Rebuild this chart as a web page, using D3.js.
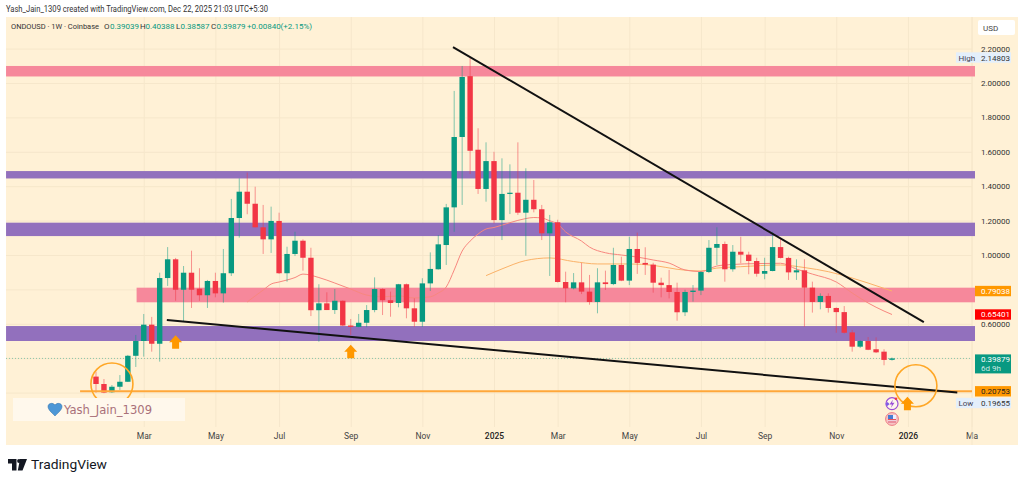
<!DOCTYPE html>
<html><head><meta charset="utf-8">
<script src="https://cdnjs.cloudflare.com/ajax/libs/d3/7.8.5/d3.min.js"></script>
<style>
html,body{margin:0;padding:0;background:#fff;overflow:hidden}
svg{display:block}
text{font-family:"Roboto","Liberation Sans",sans-serif}
</style></head><body>
<svg id="c" width="1024" height="483"></svg>
<script>
const opens=[.293,.250,.202,.234,.263,.414,.500,.595,.484,.866,.975,.798,.897,.804,.766,.849,.777,.894,1.215,1.368,1.298,1.161,1.091,1.198,.894,1.006,1.083,.984,.679,.719,.680,.734,.590,.582,.606,.680,.802,.737,.721,.830,.690,.612,.835,.917,1.058,1.277,1.686,2.040,1.612,1.384,1.546,1.203,1.355,1.362,1.246,1.321,1.266,1.126,1.190,.843,.806,.841,.787,.727,.841,.831,.942,.851,1.035,.954,.944,.839,.825,.785,.667,.785,.793,.901,1.042,1.064,.917,1.019,1.002,.965,.891,.907,1.046,.983,.899,.911,.810,.727,.762,.692,.668,.550,.467,.500,.452,.438,.39039];
const closes=[.250,.200,.234,.263,.414,.500,.595,.484,.866,.975,.798,.897,.798,.766,.849,.777,.894,1.215,1.368,1.298,1.161,1.091,1.198,.894,1.006,1.083,.984,.679,.719,.680,.734,.590,.582,.606,.680,.802,.737,.721,.830,.690,.612,.835,.919,1.062,1.277,1.686,2.035,1.606,1.384,1.546,1.203,1.355,1.362,1.246,1.321,1.266,1.126,1.190,.843,.806,.841,.787,.727,.841,.831,.942,.851,1.035,.954,.944,.839,.825,.785,.667,.785,.793,.901,1.042,1.064,.917,1.019,1.002,.965,.891,.907,1.046,.983,.899,.911,.810,.727,.762,.692,.668,.548,.467,.500,.449,.434,.390,.39879];
const highs=[.322,.279,.244,.302,.419,.535,.657,.640,.897,1.046,.983,.936,1.025,.923,.855,.897,1.035,1.326,1.446,1.479,1.397,1.291,1.281,1.246,1.048,1.135,1.091,1.042,.830,.783,.802,.736,.628,.657,.709,.870,.806,.787,.832,.834,.748,.865,1.015,1.116,1.297,1.954,2.099,2.14803,1.737,1.655,1.600,1.562,1.527,1.655,1.504,1.436,1.291,1.233,1.205,.903,.895,.954,.884,.923,.909,1.042,.990,1.106,1.130,1.045,.955,.868,.913,.839,.798,.825,.905,1.087,1.161,1.078,1.058,1.106,1.019,.984,.984,1.135,1.097,.990,.975,.975,.845,.777,.777,.695,.703,.564,.505,.523,.521,.452,.40388];
const lows=[.199,.19655,.198,.215,.262,.349,.409,.438,.380,.820,.734,.612,.692,.734,.692,.754,.723,.878,1.101,1.237,1.161,1.006,1.012,.890,.845,.994,.909,.645,.496,.680,.657,.587,.535,.580,.580,.667,.651,.641,.696,.632,.582,.582,.791,.915,.942,1.135,1.291,1.471,1.355,1.310,1.184,1.087,1.238,1.233,.996,1.248,1.087,.878,.840,.725,.800,.773,.711,.661,.797,.825,.848,.825,.890,.884,.781,.754,.748,.618,.645,.729,.767,.895,.942,.845,.903,.952,.888,.874,.859,.905,.980,.855,.855,.583,.665,.684,.665,.548,.544,.438,.459,.447,.430,.359,.38587];

const maFastIdx=[19,20,21,22,23,25,26,28,30,32,34,36,38,40,42,43,44,45,46,47,48,49,50,52,54,55,56,57,58,59,61,62,64,66,68,70,72,74,76,78,80,83,86,88,90,93,95,97,99,100];
const maFastVal=[.727,.762,.796,.831,.843,.869,.889,.869,.837,.802,.767,.757,.762,.750,.757,.779,.814,.913,1.023,1.081,1.122,1.151,1.160,1.188,1.212,1.218,1.215,1.199,1.180,1.134,1.081,1.046,1.013,1.000,.988,.971,.953,.913,.904,.936,.945,.950,.952,.918,.889,.843,.779,.721,.674,.65401];
const maSlowIdx=[49,51,54,57,60,63,67,70,73,76,78,81,86,89,92,95,97,100];
const maSlowVal=[.880,.919,.968,.983,.962,.948,.948,.940,.917,.907,.924,.932,.942,.927,.903,.866,.837,.79038];

const zoneTop=[2.099,1.488,1.188,.81,.587];
const zoneBot=[2.038,1.445,1.110,.725,.50];
const zoneStart=[-11.3,-11.3,-11.3,5.1,-11.3];
const zoneKind=["pink","purple","purple","pink","purple"];

const trendStartIdx=[44.85,8.9];
const trendStartVal=[2.209,.622];
const trendEndIdx=[104,108.2];
const trendEndVal=[.610,.200];

const priceTicks=[2.2,2,1.8,1.6,1.4,1.2,1,.6];
const gridPrices=[2.2,2,1.8,1.6,1.4,1.2,1,.8,.6,.4,.2];
const timeTickIdx=[6,15,23,32,41,50,58,67,76,84,93,102,110];
const timeTickLabels=["Mar","May","Jul","Sep","Nov","2025","Mar","May","Jul","Sep","Nov","2026","Ma"];

const supportLevel=.20753, lastPrice=.39879;
const circleIdx=[2,103], circleVal=[.250,.240];
const arrowIdx=[10,32,102];
const arrowTop=[.533,.478,.176];

const green="#089981",red="#f23645",bg="#fff1d6",grid="#f6e7cb";
const x=d3.scaleLinear().domain([0,100]).range([96,892]);
const y=d3.scaleLinear().domain([.2,2.2]).range([392.6,48.6]);
const svg=d3.select("#c");
const L=6,R=972,T=17,B=445,RR=1018;

svg.append("rect").attr("x",L).attr("y",T).attr("width",RR-L).attr("height",B-T).attr("fill",bg);

const gy=svg.append("g").attr("transform",`translate(${L},0)`)
  .call(d3.axisRight(y).tickValues(gridPrices).tickSize(R-L).tickFormat(""));
gy.select(".domain").remove();
gy.selectAll("line").attr("stroke",grid).attr("stroke-width",1);

const gx=svg.append("g").attr("transform",`translate(0,${T})`)
  .call(d3.axisBottom(x).tickValues(timeTickIdx).tickSize(B-T-18).tickFormat((d,i)=>timeTickLabels[i]));
gx.select(".domain").remove();
gx.selectAll("line").attr("stroke",grid).attr("stroke-width",1);
gx.selectAll("text").attr("y",B-T-6).attr("dy",0).attr("font-size",8.5)
  .attr("fill",(d,i)=>/^20/.test(timeTickLabels[i])?"#222":"#444")
  .attr("font-weight",(d,i)=>/^20/.test(timeTickLabels[i])?500:400)
  .style("font-family",'"Roboto",sans-serif');
svg.append("line").attr("x1",R).attr("x2",R).attr("y1",T).attr("y2",B).attr("stroke",grid);

zoneTop.forEach((t,i)=>{
  svg.append("rect").attr("x",x(zoneStart[i])).attr("width",975-x(zoneStart[i]))
    .attr("y",y(t)).attr("height",y(zoneBot[i])-y(t))
    .attr("fill",zoneKind[i]=="pink"?"#f6889b":"#9270bd");
});

svg.append("line").attr("x1",L).attr("x2",R).attr("y1",y(lastPrice)).attr("y2",y(lastPrice))
  .attr("stroke",green).attr("stroke-opacity",.45).attr("stroke-dasharray","1 2");

const line=d3.line().curve(d3.curveMonotoneX);
svg.append("path").attr("fill","none").attr("stroke","#fbb268").attr("stroke-width",1)
  .attr("d",line(maSlowIdx.map((d,i)=>[x(d),y(maSlowVal[i])])));
svg.append("path").attr("fill","none").attr("stroke","#f8877f").attr("stroke-width",1)
  .attr("d",line(maFastIdx.map((d,i)=>[x(d),y(maFastVal[i])])));

const idx=d3.range(opens.length);
const col=i=>closes[i]>=opens[i]?green:red;
svg.append("g").selectAll("line").data(idx).join("line")
  .attr("x1",x).attr("x2",x).attr("y1",i=>y(highs[i])).attr("y2",i=>y(lows[i]))
  .attr("stroke",col).attr("stroke-width",1).attr("stroke-opacity",.5);
svg.append("g").selectAll("rect").data(idx).join("rect")
  .attr("x",i=>x(i)-2.7).attr("width",5.4)
  .attr("y",i=>Math.min(y(opens[i]),y(closes[i])))
  .attr("height",i=>Math.max(1.2,Math.abs(y(opens[i])-y(closes[i]))))
  .attr("fill",col);

svg.append("line").attr("x1",x(-2)).attr("x2",R).attr("y1",y(supportLevel)).attr("y2",y(supportLevel))
  .attr("stroke","#ffa73a").attr("stroke-width",2);

trendStartIdx.forEach((d,i)=>{
  svg.append("line").attr("x1",x(d)).attr("y1",y(trendStartVal[i]))
    .attr("x2",x(trendEndIdx[i])).attr("y2",y(trendEndVal[i]))
    .attr("stroke","#111").attr("stroke-width",2);
});

circleIdx.forEach((d,i)=>{
  svg.append("circle").attr("cx",x(d)).attr("cy",y(circleVal[i])).attr("r",21)
    .attr("fill","none").attr("stroke","#ffa726").attr("stroke-width",1.6);
});

const arrowPath="M0,0 L6.5,7 L3.5,7 L3.5,13.5 L-3.5,13.5 L-3.5,7 L-6.5,7 Z";
arrowIdx.forEach((d,i)=>{
  svg.append("path").attr("d",arrowPath).attr("fill","#ff9800")
    .attr("transform",`translate(${x(d)+(i==2?-.5:0)},${y(arrowTop[i])})`);
});

// event icons
const ig=svg.append("g");
ig.append("circle").attr("cx",892).attr("cy",403.7).attr("r",6).attr("fill","#fff6ec").attr("stroke","#9c4fd6").attr("stroke-width",1.2);
ig.append("path").attr("d","M893,399.5 L889.5,404.5 L892,404.5 L890.8,408 L894.5,402.8 L892,402.8 Z").attr("fill","#9c4fd6");
ig.append("circle").attr("cx",896).attr("cy",398.7).attr("r",1.3).attr("fill","#f23645");
ig.append("path").attr("d","M885.5,404 l2,-2 l2,2 l-2,2 Z").attr("fill","#7d5be6");
ig.append("circle").attr("cx",892).attr("cy",419).attr("r",6.4).attr("fill","#f7c4c4").attr("stroke","#ee7b85").attr("stroke-width",1);
ig.append("rect").attr("x",888).attr("y",415).attr("width",8).attr("height",8).attr("fill","#eef");
ig.append("rect").attr("x",888).attr("y",419).attr("width",8).attr("height",1.2).attr("fill","#e8515d");
ig.append("rect").attr("x",888).attr("y",421.4).attr("width",8).attr("height",1.2).attr("fill","#e8515d");
ig.append("rect").attr("x",888).attr("y",415).attr("width",5).attr("height",4).attr("fill","#4a7bd0");

// watermark
svg.append("rect").attr("x",13).attr("y",398).attr("width",172).attr("height",23).attr("fill","#fff8ec");
svg.append("path").attr("d","M55,416 C51,412 48,409.5 48,406.5 C48,403.5 52.5,402 55,405 C57.5,402 62,403.5 62,406.5 C62,409.5 59,412 55,416 Z")
  .attr("fill","#4d97d6").attr("stroke","#2f6fa6").attr("stroke-width",.5);
svg.append("text").attr("x",64).attr("y",414).text("Yash_Jain_1309").attr("font-size",12.5).attr("fill","#a9707a")
  .style("font-family",'"DejaVu Sans",sans-serif').attr("textLength",88).attr("lengthAdjust","spacingAndGlyphs");

// price labels
priceTicks.forEach(v=>{
  svg.append("text").attr("x",981).attr("y",y(v)+3).text(v.toFixed(5)).attr("font-size",8).attr("fill","#333");
});
svg.append("rect").attr("x",978).attr("y",20).attr("width",37).attr("height",15).attr("rx",2).attr("fill","#fff");
svg.append("text").attr("x",983).attr("y",31).text("USD").attr("font-size",8).attr("fill","#444");

function badge(val,fill,tc,extra){
  const yy=y(val);
  const h=extra?19:10.4, top=extra?yy-4:yy-5.2;
  svg.append("rect").attr("x",975).attr("y",top).attr("width",36).attr("height",h).attr("fill",fill);
  svg.append("text").attr("x",981).attr("y",top+8).text(val.toFixed(5)).attr("font-size",8).attr("fill",tc);
  if(extra)svg.append("text").attr("x",981).attr("y",top+16.5).text(extra).attr("font-size",8).attr("fill",tc).attr("fill-opacity",.8);
}
badge(.79038,"#ff9800","#fff");
badge(.65401,"#ff0000","#fff");
badge(lastPrice,green,"#fff","6d 9h");
badge(supportLevel,"#ff9800","#222");

function hl(label,val,cy){
  svg.append("rect").attr("x",956).attr("y",cy-5.2).attr("width",55).attr("height",10.4).attr("fill","#e4effb");
  svg.append("text").attr("x",958.5).attr("y",cy+3).text(label).attr("font-size",8).attr("fill","#445");
  svg.append("text").attr("x",981).attr("y",cy+3).text(val.toFixed(5)).attr("font-size",8).attr("fill","#333");
}
hl("High",2.14803,y(2.14803));
hl("Low",.19655,403);

// header
svg.append("text").attr("x",6).attr("y",12).text("Yash_Jain_1309 created with TradingView.com, Dec 22, 2025 21:03 UTC+5:30")
  .attr("font-size",8.2).attr("fill","#333").attr("textLength",262).attr("lengthAdjust","spacingAndGlyphs");
svg.append("text").attr("x",11).attr("y",29).attr("font-size",8).attr("fill","#333").text("ONDOUSD · 1W · Coinbase")
  .attr("textLength",88).attr("lengthAdjust","spacingAndGlyphs");
const parts=[[104,"O"],[110,"0.39039"],[140,"H"],[145.5,"0.40388"],[176,"L"],[180.5,"0.38587"],[211,"C"],[216.5,"0.39879"],[247,"+0.00840"],[280.5,"(+2.15%)"]];
parts.forEach(p=>{
  svg.append("text").attr("x",p[0]).attr("y",29).text(p[1]).attr("font-size",8)
    .attr("fill",/^[OHLC]$/.test(p[1])?"#333":green);
});

// logo
svg.append("path").attr("fill","#131722")
  .attr("d","M8,459 H16.5 V470.5 H12 V463.5 H8 Z M20,459 H27 L22.5,470.5 H17.8 Z");
svg.append("circle").attr("cx",19).attr("cy",461).attr("r",1.9).attr("fill","#131722");
svg.append("text").attr("x",31).attr("y",469).text("TradingView").attr("font-size",13.5).attr("font-weight",400)
  .attr("fill","#131722").attr("textLength",76).attr("lengthAdjust","spacingAndGlyphs");
</script>
</body></html>
